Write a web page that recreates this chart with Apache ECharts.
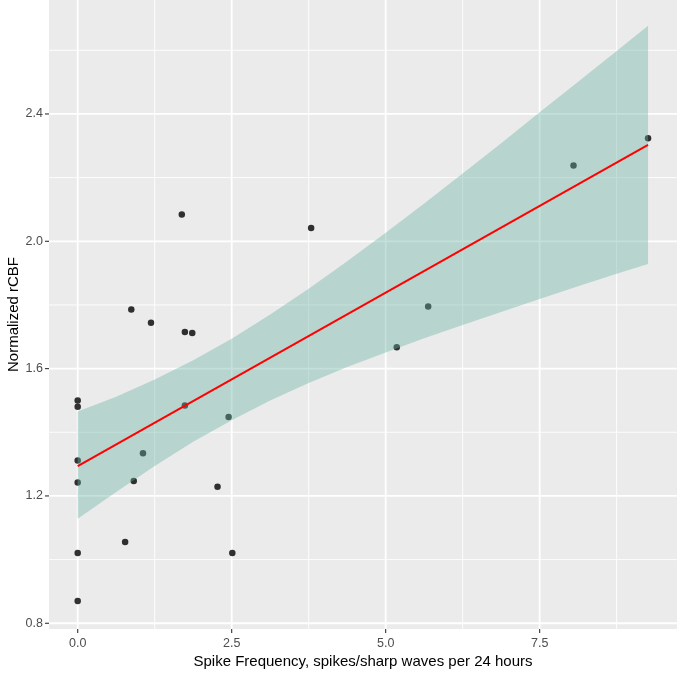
<!DOCTYPE html>
<html>
<head>
<meta charset="utf-8">
<script src="https://cdn.jsdelivr.net/npm/echarts@6/dist/echarts.min.js"></script>
<style>
html,body{margin:0;padding:0;background:#fff;}
#chart{width:685px;height:674px;}
</style>
</head>
<body>
<div id="chart"></div>
<script>
// Observed points
var pointX = [0, 0, 0, 0, 0, 0, 0.77, 0.87, 0.91, 1.06, 1.19, 1.69, 1.74, 1.86, 1.74, 2.27, 2.45, 2.51, 3.79, 5.18, 5.69, 8.05, 9.26];
var pointY = [1.50, 1.48, 1.311, 1.242, 1.021, 0.870, 1.055, 1.786, 1.247, 1.334, 1.744, 2.084, 1.715, 1.712, 1.484, 1.229, 1.448, 1.021, 2.042, 1.667, 1.795, 2.238, 2.324];

// Fitted line (read at the ends of the data range)
var fitX = [0, 9.26];
var fitY = [1.294, 2.303];

// Confidence band
var bandX =     [0,     0.625, 1.25,  1.875, 2.5,   3.125, 3.75,  4.375, 5,     5.625, 6.25,  6.875, 7.5,   8.125, 8.75,  9.26];
var bandLower = [1.128, 1.212, 1.294, 1.370, 1.438, 1.500, 1.555, 1.605, 1.651, 1.695, 1.737, 1.778, 1.819, 1.859, 1.898, 1.929];
var bandUpper = [1.465, 1.512, 1.566, 1.626, 1.694, 1.770, 1.851, 1.937, 2.027, 2.119, 2.213, 2.308, 2.405, 2.501, 2.598, 2.677];

// Ticks
var xTicks = [0, 2.5, 5, 7.5];
var xMinor = [1.25, 3.75, 6.25, 8.75];
var yTicks = [0.8, 1.2, 1.6, 2.0, 2.4];
var yMinor = [1.0, 1.4, 1.8, 2.2, 2.6];

var X_MIN = -0.466, X_MAX = 9.73, Y_MIN = 0.782, Y_MAX = 2.758;

var chart = echarts.init(document.getElementById('chart'), null, {renderer: 'canvas'});

var scatterData = pointX.map(function (x, i) { return [x, pointY[i]]; });
var fitData = fitX.map(function (x, i) { return [x, fitY[i]]; });
var bandData = bandX.map(function (x, i) { return [x, bandLower[i], bandUpper[i]]; });

var fontFam = '"Liberation Sans", Arial, sans-serif';

function gridRender(params, api) {
  if (params.dataIndex !== 0) { return; }
  var children = [];
  function seg(a, b, color, w) {
    children.push({type: 'line', shape: {x1: a[0], y1: a[1], x2: b[0], y2: b[1]}, style: {stroke: color, lineWidth: w}});
  }
  function vline(v, w) { seg(api.coord([v, Y_MIN]), api.coord([v, Y_MAX]), '#FFFFFF', w); }
  function hline(v, w) { seg(api.coord([X_MIN, v]), api.coord([X_MAX, v]), '#FFFFFF', w); }
  xMinor.forEach(function (v) { vline(v, 0.9); });
  yMinor.forEach(function (v) { hline(v, 0.9); });
  xTicks.forEach(function (v) { vline(v, 1.8); });
  yTicks.forEach(function (v) { hline(v, 1.8); });
  // tick marks outside the panel
  xTicks.forEach(function (v) {
    var p = api.coord([v, Y_MIN]);
    seg([p[0], p[1]], [p[0], p[1] + 4], '#333333', 1.1);
  });
  yTicks.forEach(function (v) {
    var p = api.coord([X_MIN, v]);
    seg([p[0] - 4, p[1]], [p[0], p[1]], '#333333', 1.1);
  });
  return {type: 'group', children: children};
}

chart.setOption({
  animation: false,
  backgroundColor: '#ffffff',
  grid: {
    left: 49, right: 8, top: 0, bottom: 45,
    containLabel: false,
    outerBoundsMode: 'none',
    show: true, backgroundColor: '#EBEBEB', borderWidth: 0
  },
  xAxis: {
    type: 'value',
    min: X_MIN, max: X_MAX,
    name: 'Spike Frequency, spikes/sharp waves per 24 hours',
    nameLocation: 'middle',
    nameGap: 25,
    nameMoveOverlap: false,
    nameTextStyle: {fontFamily: fontFam, fontSize: 15, color: '#000'},
    axisLine: {show: false},
    splitLine: {show: false},
    axisTick: {show: false},
    axisLabel: {
      customValues: xTicks, margin: 8,
      fontFamily: fontFam, fontSize: 12.5, color: '#4D4D4D',
      formatter: function (v) { return Number(v).toFixed(1); }
    }
  },
  yAxis: {
    type: 'value',
    min: Y_MIN, max: Y_MAX,
    name: 'Normalized rCBF',
    nameLocation: 'middle',
    nameGap: 28,
    nameMoveOverlap: false,
    nameTextStyle: {fontFamily: fontFam, fontSize: 15, color: '#000'},
    axisLine: {show: false},
    splitLine: {show: false},
    axisTick: {show: false},
    axisLabel: {
      customValues: yTicks, margin: 6,
      fontFamily: fontFam, fontSize: 12.5, color: '#4D4D4D',
      formatter: function (v) { return Number(v).toFixed(1); }
    }
  },
  series: [
    {
      type: 'custom', name: 'grid', data: [[0, 1]], silent: true, z: 1, clip: false,
      renderItem: gridRender
    },
    {
      type: 'scatter', name: 'points', data: scatterData, z: 2,
      symbol: 'circle', symbolSize: 6.5,
      itemStyle: {color: '#000000'}
    },
    {
      type: 'custom', name: 'band', data: bandData, z: 3, silent: true,
      renderItem: function (params, api) {
        if (params.dataIndex !== 0) { return; }
        var pts = [];
        for (var i = 0; i < bandX.length; i++) { pts.push(api.coord([bandX[i], bandUpper[i]])); }
        for (var j = bandX.length - 1; j >= 0; j--) { pts.push(api.coord([bandX[j], bandLower[j]])); }
        return {
          type: 'polygon',
          shape: {points: pts, smooth: 0},
          style: {fill: 'rgba(105,179,162,0.4)', stroke: null}
        };
      }
    },
    {
      type: 'line', name: 'fit', data: fitData, z: 4,
      symbol: 'none', showSymbol: false,
      lineStyle: {color: '#FF0000', width: 2}
    }
  ]
});
</script>
</body>
</html>
